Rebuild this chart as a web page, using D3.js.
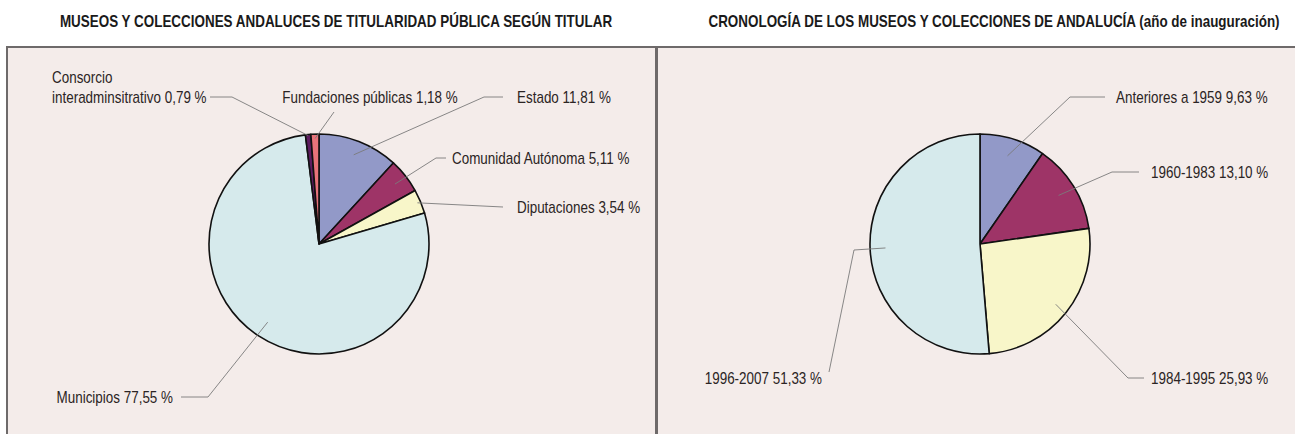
<!DOCTYPE html>
<html><head><meta charset="utf-8">
<script src="https://cdn.jsdelivr.net/npm/d3@7/dist/d3.min.js"></script>
<style>
html,body{margin:0;padding:0;background:#fff;}
svg text{font-family:"Liberation Sans Narrow","Liberation Sans",Arial,sans-serif;}
</style></head>
<body>
<svg id="chart" width="1295" height="434"></svg>
<script>
// ---- data ----
const titularCategories = ["Estado", "Comunidad Autónoma", "Diputaciones", "Municipios", "Consorcio interadminsitrativo", "Fundaciones públicas"];
const titularValues = [11.81, 5.11, 3.54, 77.55, 0.79, 1.18];
const titularLabels = ["11,81 %", "5,11 %", "3,54 %", "77,55 %", "0,79 %", "1,18 %"];

const cronoCategories = ["Anteriores a 1959", "1960-1983", "1984-1995", "1996-2007"];
const cronoValues = [9.63, 13.10, 25.93, 51.33];
const cronoLabels = ["9,63 %", "13,10 %", "25,93 %", "51,33 %"];

const titles = [
  {bold: "MUSEOS Y COLECCIONES ANDALUCES DE TITULARIDAD PÚBLICA SEGÚN TITULAR", rest: ""},
  {bold: "CRONOLOGÍA DE LOS MUSEOS Y COLECCIONES DE ANDALUCÍA", rest: " (año de inauguración)"}
];

// ---- styles / layout ----
const titularColors = ["#9299c8", "#9e3467", "#f8f6c9", "#d6eaec", "#5d1b60", "#e8737a"];
const cronoColors = ["#9299c8", "#9e3467", "#f8f6c9", "#d6eaec"];
const bg = "#f4ecea";
const R = 110;
const SX = 0.84; // horizontal condensing to mimic a narrow typeface

const svg = d3.select("#chart");

function ntext(parent, x, y, anchor, size, str, weight) {
  return parent.append("text")
    .attr("transform", `translate(${x},${y}) scale(${SX},1)`)
    .attr("text-anchor", anchor).attr("font-size", size)
    .attr("font-weight", weight || "normal").attr("fill", "#2b2424").text(str);
}

// panels
svg.append("rect").attr("x", 7).attr("y", 47).attr("width", 649).attr("height", 400)
  .attr("fill", bg).attr("stroke", "#6e6a6a").attr("stroke-width", 2);
svg.append("rect").attr("x", 657).attr("y", 47).attr("width", 660).attr("height", 400)
  .attr("fill", bg).attr("stroke", "#6e6a6a").attr("stroke-width", 2);

// titles
const titleX = [336, 994];
titles.forEach((t, i) => {
  ntext(svg, titleX[i], 27, "middle", 16, t.bold + t.rest, "bold").attr("fill", "#1a1a1a");
});

// label layout: inner radius factor, path points (relative to centre), text position & anchor
const titularLayout = [
  {rf: 0.87, pts: [[165, -147], [184, -147]], tx: 198, ty: -141, anchor: "start", lines: 1},
  {rf: 0.88, pts: [[117, -86], [127, -86]], tx: 133, ty: -80, anchor: "start", lines: 1},
  {rf: 0.97, pts: [[184, -37]], tx: 198, ty: -31, anchor: "start", lines: 1},
  {rf: 0.85, pts: [[-111, 153], [-138, 153]], tx: -146, ty: 159, anchor: "end", lines: 1},
  {rf: 0.99, pts: [[-87, -147], [-109, -147]], tx: -267, ty: -141, anchor: "start", lines: 2},
  {rf: 0.96, pts: [[15, -132]], tx: 51, ty: -141, anchor: "middle", lines: 1}
];
const cronoLayout = [
  {rf: 0.84, pts: [[90, -147], [125, -147]], tx: 136, ty: -141, anchor: "start"},
  {rf: 0.84, pts: [[132, -72], [159, -72]], tx: 171, ty: -66, anchor: "start"},
  {rf: 0.88, pts: [[148, 134], [164, 134]], tx: 171, ty: 140, anchor: "start"},
  {rf: 0.86, pts: [[-126, 6], [-151, 128]], tx: -158, ty: 140, anchor: "end"}
];

function drawPie(cx, cy, cats, vals, labs, colors, layout) {
  const g = svg.append("g").attr("transform", `translate(${cx},${cy})`);
  const pie = d3.pie().sort(null).value(d => d)(vals);
  const arc = d3.arc().innerRadius(0).outerRadius(R);
  g.selectAll("path.slice").data(pie).join("path").attr("class", "slice")
    .attr("d", arc).attr("fill", (d, i) => colors[i])
    .attr("stroke", "#111").attr("stroke-width", 1.6).attr("stroke-linejoin", "round");

  pie.forEach((d, i) => {
    const L = layout[i];
    const a = (d.startAngle + d.endAngle) / 2;
    const p0 = [Math.sin(a) * R * L.rf, -Math.cos(a) * R * L.rf];
    g.append("path").attr("d", d3.line()([p0, ...L.pts])).attr("fill", "none")
      .attr("stroke", "#7a7a7a").attr("stroke-width", 0.9);
    if (L.lines === 2) {
      const words = cats[i].split(" ");
      ntext(g, L.tx, L.ty - 20, L.anchor, 16, words[0]);
      ntext(g, L.tx, L.ty, L.anchor, 16, words.slice(1).join(" ") + " " + labs[i]);
    } else {
      ntext(g, L.tx, L.ty, L.anchor, 16, cats[i] + " " + labs[i]);
    }
  });
}

drawPie(319, 244, titularCategories, titularValues, titularLabels, titularColors, titularLayout);
drawPie(980, 244, cronoCategories, cronoValues, cronoLabels, cronoColors, cronoLayout);
</script>
</body></html>
